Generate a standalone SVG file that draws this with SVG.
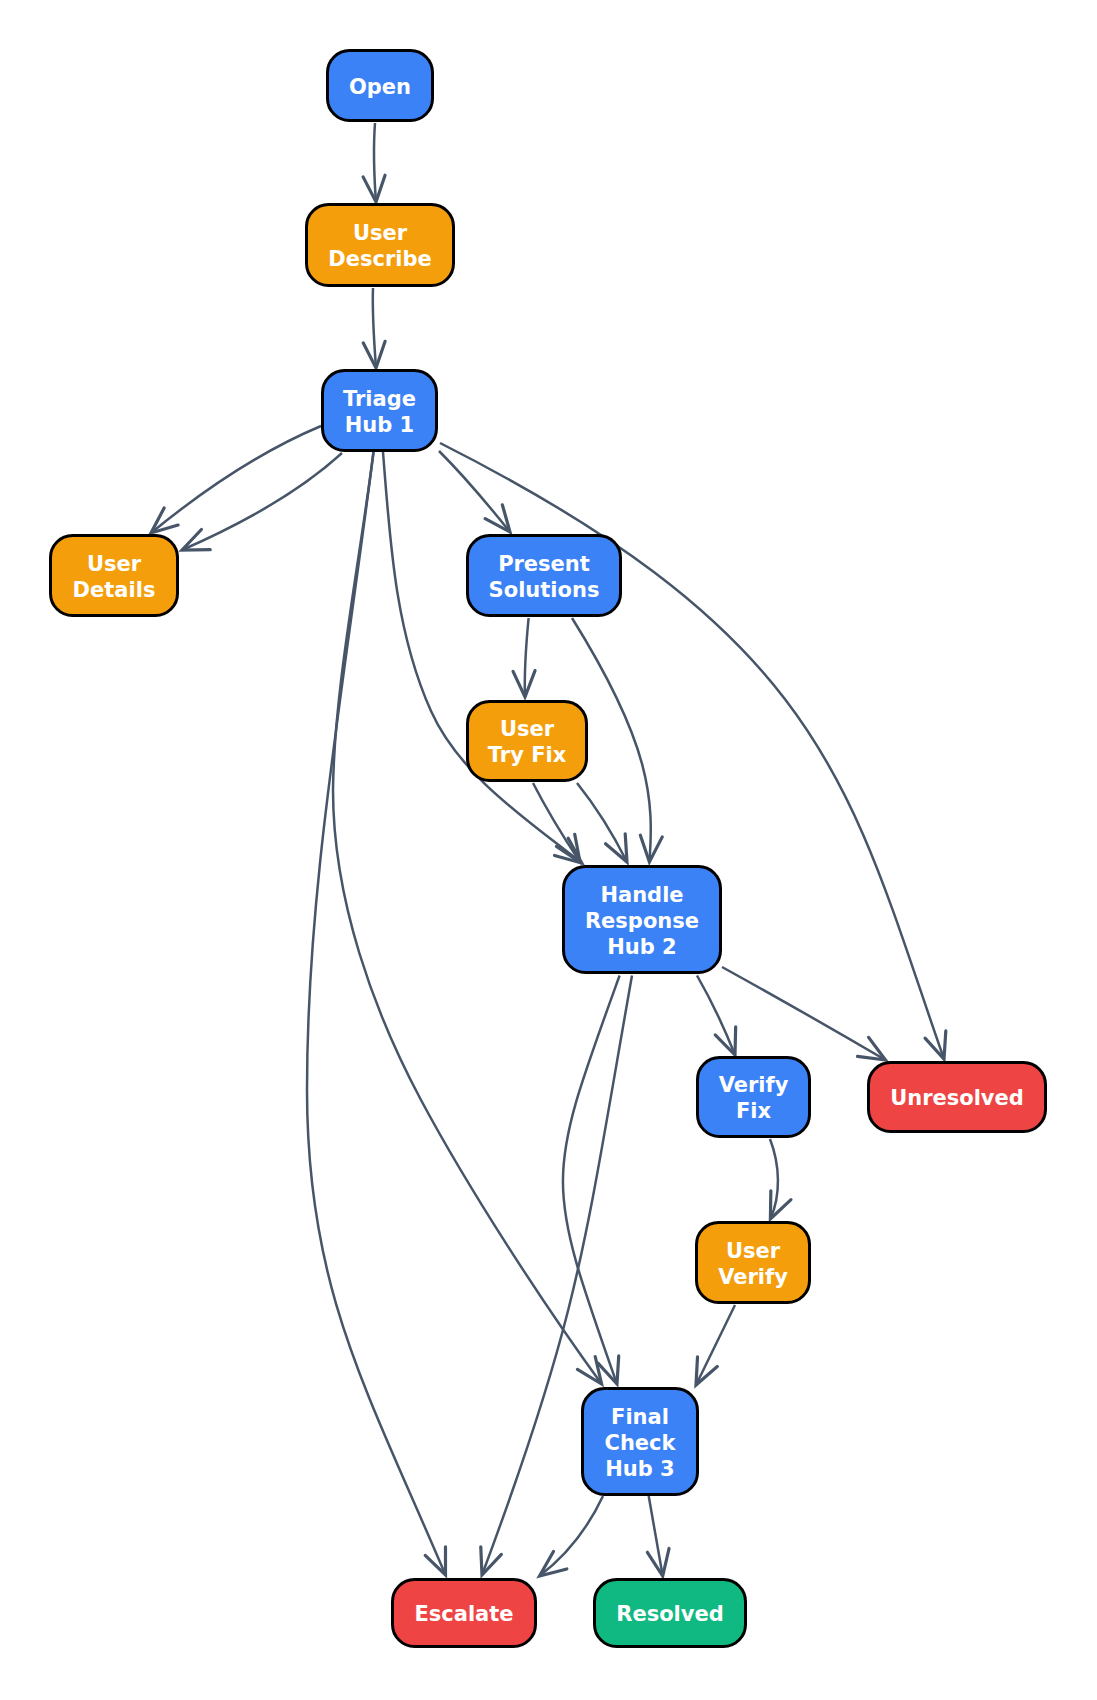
<svg xmlns="http://www.w3.org/2000/svg" width="1097" height="1700" viewBox="0 0 1097 1700">
<defs>
<marker id="arr" viewBox="-30 -15 34 30" markerWidth="34" markerHeight="30" refX="0" refY="0" orient="auto" markerUnits="userSpaceOnUse" overflow="visible">
<path d="M-26,-11 L0,0 L-26,11" fill="none" stroke="#475569" stroke-width="3.2" stroke-linejoin="miter" stroke-linecap="round"/>
</marker>
</defs>
<style>
.n rect{stroke:#000;stroke-width:3}
.blue rect{fill:#3B82F6}
.orange rect{fill:#F59E0B}
.red rect{fill:#EF4444}
.green rect{fill:#10B981}
.n text{font-family:"DejaVu Sans","Liberation Sans",sans-serif;font-weight:bold;font-size:21px;fill:#fff;text-anchor:middle}
.e path{fill:none;stroke:#475569;stroke-width:2.5;marker-end:url(#arr)}
</style>
<rect width="1097" height="1700" fill="#fff"/>
<g id="connectors" class="e">
<path d="M375,123 C373,150 374,175 376,202"/>
<path d="M373,288 C372,315 374,340 376,368"/>
<path d="M321,426 Q240,460 151,533"/>
<path d="M342,453 Q285,505 182,550"/>
<path d="M439,451 Q470,482 510,532"/>
<path d="M440,443 C830,640 850,790 944,1059"/>
<path d="M383,452 C390,540 395,631 431,711 C460,775.6 526.3,819 581.7,863"/>
<path d="M373.5,452 C342,699.5 307,890 307,1090 C307,1290 367.5,1391 445.5,1575"/>
<path d="M373.5,452 C359.6,562 334,690 333,790 C333,900 374,1012 421,1100 C468,1188 542.6,1303 601.6,1384"/>
<path d="M528.6,618 C526,645 524,670 525,697"/>
<path d="M572,618 C651.5,745.5 654,800 649.4,862"/>
<path d="M533,783 Q552,820 580,862"/>
<path d="M577,783 Q605,818 627,862"/>
<path d="M697,975.5 Q718,1012 735,1055"/>
<path d="M722,967 Q800,1010 885.5,1060"/>
<path d="M619.6,975.5 C545,1182 544,1177 617,1384"/>
<path d="M632,975.5 C583.3,1251.3 580,1311.8 482,1575"/>
<path d="M770,1139 C780,1165 781,1195 770.4,1219"/>
<path d="M735,1305 L696,1385"/>
<path d="M648.7,1496 L662.7,1576"/>
<path d="M603,1496 Q580,1545 539.5,1576"/>
</g>
<g id="open" class="n blue"><rect x="327.5" y="50.5" width="105" height="70" rx="22"/><text x="380" y="93.5">Open</text></g>
<g id="user_describe" class="n orange"><rect x="306.5" y="204.5" width="147" height="81" rx="22"/><text x="380" y="240">User</text><text x="380" y="266">Describe</text></g>
<g id="triage_hub1" class="n blue"><rect x="322.5" y="370.5" width="114" height="80" rx="22"/><text x="379.5" y="405.5">Triage</text><text x="379.5" y="431.5">Hub 1</text></g>
<g id="user_details" class="n orange"><rect x="50.5" y="535.5" width="127" height="80" rx="22"/><text x="114" y="570.5">User</text><text x="114" y="596.5">Details</text></g>
<g id="present_solutions" class="n blue"><rect x="467.5" y="535.5" width="153" height="80" rx="22"/><text x="544" y="570.5">Present</text><text x="544" y="596.5">Solutions</text></g>
<g id="user_try_fix" class="n orange"><rect x="467.5" y="701.5" width="119" height="79" rx="22"/><text x="527" y="736">User</text><text x="527" y="762">Try Fix</text></g>
<g id="handle_response_hub2" class="n blue"><rect x="563.5" y="866.5" width="157" height="106" rx="22"/><text x="642" y="901.5">Handle</text><text x="642" y="927.5">Response</text><text x="642" y="953.5">Hub 2</text></g>
<g id="verify_fix" class="n blue"><rect x="697.5" y="1057.5" width="112" height="79" rx="22"/><text x="753.5" y="1092">Verify</text><text x="753.5" y="1118">Fix</text></g>
<g id="unresolved" class="n red"><rect x="868.5" y="1062.5" width="177" height="69" rx="22"/><text x="957" y="1105">Unresolved</text></g>
<g id="user_verify" class="n orange"><rect x="696.5" y="1222.5" width="113" height="80" rx="22"/><text x="753" y="1257.5">User</text><text x="753" y="1283.5">Verify</text></g>
<g id="final_check_hub3" class="n blue"><rect x="582.5" y="1388.5" width="115" height="106" rx="22"/><text x="640" y="1423.5">Final</text><text x="640" y="1449.5">Check</text><text x="640" y="1475.5">Hub 3</text></g>
<g id="escalate" class="n red"><rect x="392.5" y="1579.5" width="143" height="67" rx="22"/><text x="464" y="1621">Escalate</text></g>
<g id="resolved" class="n green"><rect x="594.5" y="1579.5" width="151" height="67" rx="22"/><text x="670" y="1621">Resolved</text></g>
</svg>
